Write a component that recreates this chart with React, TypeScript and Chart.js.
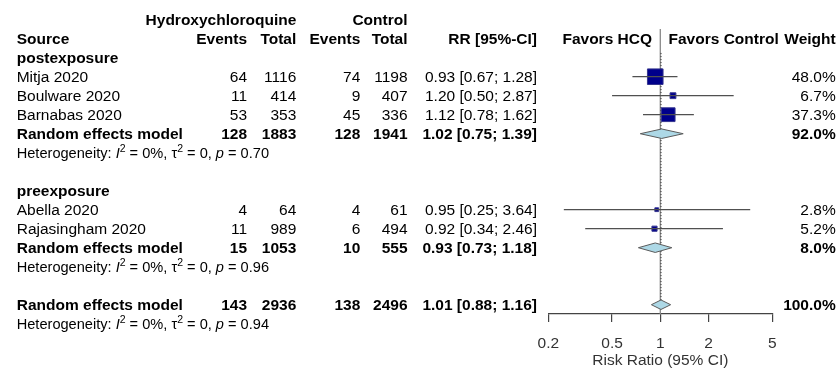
import React, { useEffect, useRef } from 'react';
import { Chart, registerables } from 'chart.js';

Chart.register(...registerables);

const FONT = '"Liberation Sans", Arial, Helvetica, sans-serif';

// ---- data ----
const studyNames = ['Mitja 2020', 'Boulware 2020', 'Barnabas 2020', 'Abella 2020', 'Rajasingham 2020'];
const studyRows = [3, 4, 5, 10, 11];
const hcqEvents = [64, 11, 53, 4, 11];
const hcqTotal = [1116, 414, 353, 64, 989];
const ctrlEvents = [74, 9, 45, 4, 6];
const ctrlTotal = [1198, 407, 336, 61, 494];
const studyRR = [0.93, 1.2, 1.12, 0.95, 0.92];
const studyLower = [0.67, 0.5, 0.78, 0.25, 0.34];
const studyUpper = [1.28, 2.87, 1.62, 3.64, 2.46];
const studyWeights = [48.0, 6.7, 37.3, 2.8, 5.2];

const poolLabels = ['Random effects model', 'Random effects model', 'Random effects model'];
const poolRows = [6, 12, 15];
const poolHcqEvents = [128, 15, 143];
const poolHcqTotal = [1883, 1053, 2936];
const poolCtrlEvents = [128, 10, 138];
const poolCtrlTotal = [1941, 555, 2496];
const poolRR = [1.02, 0.93, 1.01];
const poolLower = [0.75, 0.73, 0.88];
const poolUpper = [1.39, 1.18, 1.16];
const poolWeights = [92.0, 8.0, 100.0];

const hetRows = [7, 13, 16];
const hetI2 = ['0%', '0%', '0%'];
const hetTau2 = ['0', '0', '0'];
const hetP = ['0.70', '0.96', '0.94'];

const subgroupNames = ['postexposure', 'preexposure'];
const subgroupRows = [2, 9];

const xTicks = [0.2, 0.5, 1, 2, 5];
const nullValue = 1;
const overallRR = 1.01;

// ---- layout (pixels / row units) ----
const ROW_MIN = -1.0368;
const ROW_MAX = 15.489;
const COL = {
  source: 16.7,
  hcqEv: 247,
  hcqTot: 296.3,
  ctrlEv: 360.3,
  ctrlTot: 407.5,
  rr: 537,
  favL: 652,
  favR: 668.5,
  weight: 835.7,
};
const FS = 15.5;
const HFS = 14.6;

const fmtCI = (v: number, lo: number, hi: number) =>
  `${v.toFixed(2)} [${lo.toFixed(2)}; ${hi.toFixed(2)}]`;
const fmtW = (w: number) => `${w.toFixed(1)}%`;

const tablePlugin = {
  id: 'forestTable',
  afterDraw(chart: any) {
    const ctx: CanvasRenderingContext2D = chart.ctx;
    const ys = chart.scales.y;
    const rowY = (r: number) => ys.getPixelForValue(r);
    ctx.save();
    const txt = (s: string, x: number, row: number, align: CanvasTextAlign, bold = false) => {
      ctx.font = `${bold ? 'bold ' : ''}${FS}px ${FONT}`;
      ctx.textAlign = align;
      ctx.textBaseline = 'alphabetic';
      ctx.fillStyle = '#000';
      ctx.fillText(s, x, rowY(row) + 0.358 * FS);
    };
    // headers
    txt('Hydroxychloroquine', COL.hcqTot, 0, 'right', true);
    txt('Control', COL.ctrlTot, 0, 'right', true);
    txt('Source', COL.source, 1, 'left', true);
    txt('Events', COL.hcqEv, 1, 'right', true);
    txt('Total', COL.hcqTot, 1, 'right', true);
    txt('Events', COL.ctrlEv, 1, 'right', true);
    txt('Total', COL.ctrlTot, 1, 'right', true);
    txt('RR [95%-CI]', COL.rr, 1, 'right', true);
    txt('Favors HCQ', COL.favL, 1, 'right', true);
    txt('Favors Control', COL.favR, 1, 'left', true);
    txt('Weight', COL.weight, 1, 'right', true);

    subgroupNames.forEach((n, i) => txt(n, COL.source, subgroupRows[i], 'left', true));

    studyNames.forEach((n, i) => {
      const r = studyRows[i];
      txt(n, COL.source, r, 'left');
      txt(String(hcqEvents[i]), COL.hcqEv, r, 'right');
      txt(String(hcqTotal[i]), COL.hcqTot, r, 'right');
      txt(String(ctrlEvents[i]), COL.ctrlEv, r, 'right');
      txt(String(ctrlTotal[i]), COL.ctrlTot, r, 'right');
      txt(fmtCI(studyRR[i], studyLower[i], studyUpper[i]), COL.rr, r, 'right');
      txt(fmtW(studyWeights[i]), COL.weight, r, 'right');
    });

    poolLabels.forEach((n, i) => {
      const r = poolRows[i];
      txt(n, COL.source, r, 'left', true);
      txt(String(poolHcqEvents[i]), COL.hcqEv, r, 'right', true);
      txt(String(poolHcqTotal[i]), COL.hcqTot, r, 'right', true);
      txt(String(poolCtrlEvents[i]), COL.ctrlEv, r, 'right', true);
      txt(String(poolCtrlTotal[i]), COL.ctrlTot, r, 'right', true);
      txt(fmtCI(poolRR[i], poolLower[i], poolUpper[i]), COL.rr, r, 'right', true);
      txt(fmtW(poolWeights[i]), COL.weight, r, 'right', true);
    });

    hetRows.forEach((r, i) => {
      let x = COL.source;
      const base = rowY(r) + 0.358 * HFS;
      const parts: [string, string, number, number][] = [
        ['Heterogeneity: ', '', HFS, 0],
        ['I', 'italic ', HFS, 0],
        ['2', '', 10.5, -5.8],
        [` = ${hetI2[i]}, `, '', HFS, 0],
        ['\u03C4', '', HFS, 0],
        ['2', '', 10.5, -5.8],
        [` = ${hetTau2[i]}, `, '', HFS, 0],
        ['p', 'italic ', HFS, 0],
        [` = ${hetP[i]}`, '', HFS, 0],
      ];
      ctx.textAlign = 'left';
      ctx.textBaseline = 'alphabetic';
      ctx.fillStyle = '#000';
      for (const [s, st, sz, dy] of parts) {
        ctx.font = `${st}${sz}px ${FONT}`;
        ctx.fillText(s, x, base + dy);
        x += ctx.measureText(s).width;
      }
    });
    ctx.restore();
  },
};

export default function App() {
  const ref = useRef<HTMLCanvasElement>(null);

  useEffect(() => {
    const canvas = ref.current;
    if (!canvas) return;
    Chart.defaults.font.family = FONT;

    const datasets: any[] = [];

    // reference line at RR = 1
    datasets.push({
      type: 'line',
      data: [
        { x: nullValue, y: 0.49 },
        { x: nullValue, y: ROW_MAX },
      ],
      borderColor: '#8a8a8a',
      borderWidth: 1.3,
      pointRadius: 0,
      order: 10,
    });
    // overall random effects estimate (dotted)
    datasets.push({
      type: 'line',
      data: [
        { x: overallRR, y: 1.75 },
        { x: overallRR, y: 15.3 },
      ],
      borderColor: '#333',
      borderWidth: 1,
      borderDash: [1.2, 1.8],
      pointRadius: 0,
      order: 9,
    });

    // study confidence intervals
    studyRows.forEach((r, i) => {
      datasets.push({
        type: 'line',
        data: [
          { x: studyLower[i], y: r },
          { x: studyUpper[i], y: r },
        ],
        borderColor: '#505050',
        borderWidth: 1.3,
        pointRadius: 0,
        order: 1,
      });
    });

    // study squares (area proportional to weight)
    datasets.push({
      type: 'scatter',
      data: studyRows.map((r, i) => ({ x: studyRR[i], y: r })),
      pointStyle: 'rect',
      pointRadius: studyWeights.map((w) => (15.6 * Math.sqrt(w / 48)) / Math.SQRT2),
      backgroundColor: '#00008B',
      borderColor: '#34348f',
      borderWidth: 1,
      order: 3,
    });

    // pooled diamonds
    const hh = 0.25;
    poolRows.forEach((r, i) => {
      datasets.push({
        type: 'line',
        data: [
          { x: poolLower[i], y: r },
          { x: poolRR[i], y: r - hh },
          { x: poolUpper[i], y: r },
          { x: poolRR[i], y: r + hh },
          { x: poolLower[i], y: r },
        ],
        fill: 'shape',
        backgroundColor: '#ADD8E6',
        borderColor: '#5a5a5a',
        borderWidth: 1,
        pointRadius: 0,
        tension: 0,
        order: 4,
      });
    });

    const chart = new Chart(canvas, {
      type: 'scatter',
      data: { datasets },
      options: {
        animation: false,
        responsive: false,
        events: [],
        layout: { autoPadding: false, padding: { left: 548.3, right: 66.7, top: 0, bottom: 0 } },
        plugins: {
          legend: { display: false },
          tooltip: { enabled: false },
        },
        scales: {
          x: {
            type: 'logarithmic',
            min: 0.2,
            max: 5,
            afterBuildTicks: (scale: any) => {
              scale.ticks = xTicks.map((v) => ({ value: v }));
            },
            afterFit: (scale: any) => {
              scale.height = 56;
            },
            grid: {
              drawOnChartArea: false,
              drawTicks: true,
              tickLength: 8,
              color: '#444',
              lineWidth: 1.2,
            },
            border: { display: true, color: '#444', width: 1.2 },
            ticks: {
              autoSkip: false,
              maxRotation: 0,
              padding: 12,
              color: '#333',
              font: { size: FS, family: FONT },
              callback: (v: any) => String(v),
            },
            title: {
              display: true,
              text: 'Risk Ratio (95% CI)',
              color: '#333',
              font: { size: FS, family: FONT },
              padding: { top: 0, bottom: 0 },
            },
          },
          y: {
            type: 'linear',
            reverse: true,
            min: ROW_MIN,
            max: ROW_MAX,
            display: false,
          },
        },
      } as any,
      plugins: [tablePlugin],
    });

    return () => chart.destroy();
  }, []);

  return (
    <div style={{ position: 'absolute', left: 0, top: 0, width: 839, height: 370, background: '#fff' }}>
      <canvas ref={ref} width={839} height={370} style={{ display: 'block' }} />
    </div>
  );
}
